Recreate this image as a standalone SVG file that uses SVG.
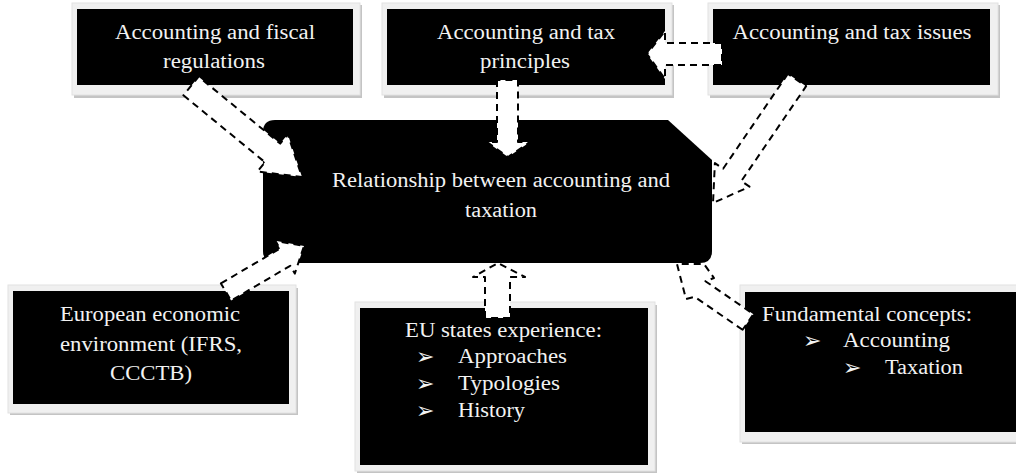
<svg xmlns="http://www.w3.org/2000/svg" width="1016" height="475" viewBox="0 0 1016 475">
<style>
.shadow{fill:#c4c4c4}
.frame{fill:#f0f0f0;stroke:#e2e2e2;stroke-width:1}
.box{fill:#000}
.t{font-family:"Liberation Serif","Times New Roman",serif;font-size:20px;fill:#f2f2f2}
.c{text-anchor:middle}
.b{font-family:"DejaVu Sans",sans-serif;font-size:22px;fill:#f2f2f2}
.arrow{fill:#fff;stroke:#000;stroke-width:2;stroke-dasharray:7 5;stroke-linejoin:round}
</style>
<rect width="1016" height="475" fill="#fff"/>

<g id="node-fiscal">
<rect class="shadow" x="74" y="5" width="288" height="93"/>
<rect class="frame" x="72" y="3" width="288" height="92"/>
<rect class="box" x="77" y="9" width="276" height="76"/>
<text class="t c" x="215" y="39" textLength="200" lengthAdjust="spacingAndGlyphs">Accounting and fiscal</text>
<text class="t c" x="214" y="68" textLength="102" lengthAdjust="spacingAndGlyphs">regulations</text>
</g>

<g id="node-principles">
<rect class="shadow" x="384" y="5" width="290" height="93"/>
<rect class="frame" x="382" y="3" width="290" height="92"/>
<rect class="box" x="387" y="9" width="278" height="76"/>
<text class="t c" x="526" y="39" textLength="178" lengthAdjust="spacingAndGlyphs">Accounting and tax</text>
<text class="t c" x="525" y="68" textLength="90" lengthAdjust="spacingAndGlyphs">principles</text>
</g>

<g id="node-issues">
<rect class="shadow" x="710" y="5" width="290" height="93"/>
<rect class="frame" x="708" y="3" width="290" height="92"/>
<rect class="box" x="713" y="9" width="277" height="76"/>
<text class="t c" x="852" y="39" textLength="239" lengthAdjust="spacingAndGlyphs">Accounting and tax issues</text>
</g>

<g id="node-center">
<path class="box" d="M275,120 H668 L712,160 V251 Q712,263 700,263 H275 Q263,263 263,251 V132 Q263,120 275,120 Z"/>
<text class="t c" x="501" y="187" textLength="338" lengthAdjust="spacingAndGlyphs">Relationship between accounting and</text>
<text class="t c" x="501" y="217" textLength="72" lengthAdjust="spacingAndGlyphs">taxation</text>
</g>

<g id="node-european">
<rect class="shadow" x="10" y="288" width="288" height="127"/>
<rect class="frame" x="8" y="285" width="288" height="128"/>
<rect class="box" x="13" y="291" width="276" height="113"/>
<text class="t c" x="150" y="321" textLength="180" lengthAdjust="spacingAndGlyphs">European economic</text>
<text class="t c" x="151" y="351" textLength="182" lengthAdjust="spacingAndGlyphs">environment (IFRS,</text>
<text class="t c" x="151" y="380" textLength="82" lengthAdjust="spacingAndGlyphs">CCCTB)</text>
</g>

<g id="node-eu-states">
<rect class="shadow" x="357" y="305" width="300" height="168"/>
<rect class="frame" x="355" y="302" width="300" height="169"/>
<rect class="box" x="360" y="308" width="288" height="157"/>
<text class="t" x="405" y="337" textLength="197" lengthAdjust="spacingAndGlyphs">EU states experience:</text>
<text class="b" x="416" y="364">➢</text>
<text class="t" x="458" y="363" textLength="109" lengthAdjust="spacingAndGlyphs">Approaches</text>
<text class="b" x="416" y="391">➢</text>
<text class="t" x="458" y="390" textLength="102" lengthAdjust="spacingAndGlyphs">Typologies</text>
<text class="b" x="416" y="418">➢</text>
<text class="t" x="458" y="417" textLength="67" lengthAdjust="spacingAndGlyphs">History</text>
</g>

<g id="node-fundamental">
<rect class="shadow" x="742" y="288" width="290" height="156"/>
<rect class="frame" x="740" y="285" width="290" height="157"/>
<rect class="box" x="745" y="292" width="280" height="140"/>
<text class="t" x="762" y="321" textLength="210" lengthAdjust="spacingAndGlyphs">Fundamental concepts:</text>
<text class="b" x="803" y="348">➢</text>
<text class="t" x="843" y="347" textLength="107" lengthAdjust="spacingAndGlyphs">Accounting</text>
<text class="b" x="843" y="375">➢</text>
<text class="t" x="885" y="374" textLength="78" lengthAdjust="spacingAndGlyphs">Taxation</text>
</g>

<g id="connectors">
<polygon id="arrow-fiscal" class="arrow" points="183.4,95.3 265,162.2 257.4,171.5 302,177 287.8,134.3 280.2,143.6 198.6,76.7"/>
<polygon id="arrow-principles" class="arrow" points="497,80 497,142 487,142 508,157 530,142 518,142 518,80"/>
<polygon id="arrow-issues-principles" class="arrow" points="722,43 665,43 665,31 647,54 665,79 665,65 722,65"/>
<polygon id="arrow-issues" class="arrow" points="787.9,73.8 723.1,168.7 714.9,163.1 713,203 749.5,186.7 741.3,181.1 806.1,86.2"/>
<polygon id="arrow-european" class="arrow" points="220.9,283.4 280,248.6 275.4,240.8 304,246 294.8,273.6 290.2,265.8 231.1,300.6"/>
<polygon id="arrow-eu-states" class="arrow" points="485,318 485,277 473,277 498,263 525,277 510,277 510,318"/>
<polygon id="arrow-fundamental" class="arrow" points="742.6,329.8 694.6,296.8 686,299 677,264 704,264 714,278 705.4,281.2 753.4,314.2"/>
</g>
</svg>
